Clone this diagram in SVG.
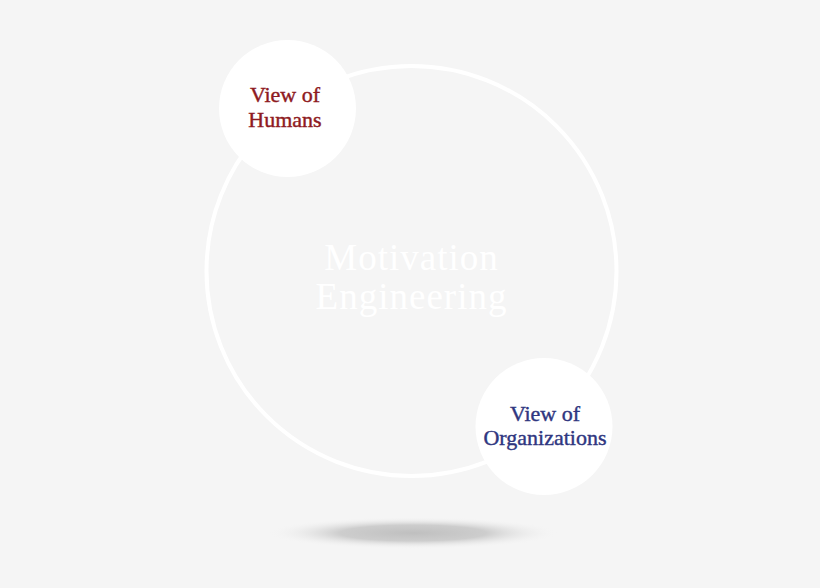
<svg xmlns="http://www.w3.org/2000/svg" width="820" height="588" viewBox="0 0 820 588">
  <defs>
    <radialGradient id="shadow" cx="0.5" cy="0.5" r="0.5">
      <stop offset="0" stop-color="#bfbfbf" stop-opacity="1"/>
      <stop offset="0.5" stop-color="#c6c6c6" stop-opacity="0.85"/>
      <stop offset="1" stop-color="#f5f5f5" stop-opacity="0"/>
    </radialGradient>
    <style>
      .node { fill: #ffffff; }
      .label { font-family: "Liberation Serif", "Times New Roman", serif; font-size: 22px; text-anchor: middle; stroke-width: 0.4px; }
      .human { fill: #8e1a22; stroke: #8e1a22; }
      .org { fill: #2f3680; stroke: #2f3680; }
      .title { font-family: "Liberation Serif", "Times New Roman", serif; font-size: 37px; letter-spacing: 1px; text-anchor: middle; fill: #ffffff; }
    </style>
  </defs>
  <rect width="820" height="588" fill="#f5f5f5"/>
  <ellipse cx="413" cy="533" rx="146" ry="16" fill="url(#shadow)"/>
  <g id="connectors">
    <circle cx="411.5" cy="271" r="205" fill="none" stroke="#ffffff" stroke-width="4"/>
  </g>
  <g id="center">
    <text class="title" x="411.5" y="270">Motivation</text>
    <text class="title" x="411.5" y="309">Engineering</text>
  </g>
  <g id="humans">
    <circle class="node" cx="287.5" cy="108.5" r="68.5"/>
    <text class="label human" x="285" y="102">View of</text>
    <text class="label human" x="285" y="127">Humans</text>
  </g>
  <g id="organizations">
    <circle class="node" cx="544" cy="426.5" r="68.5"/>
    <text class="label org" x="545" y="421">View of</text>
    <text class="label org" x="545" y="445">Organizations</text>
  </g>
</svg>
